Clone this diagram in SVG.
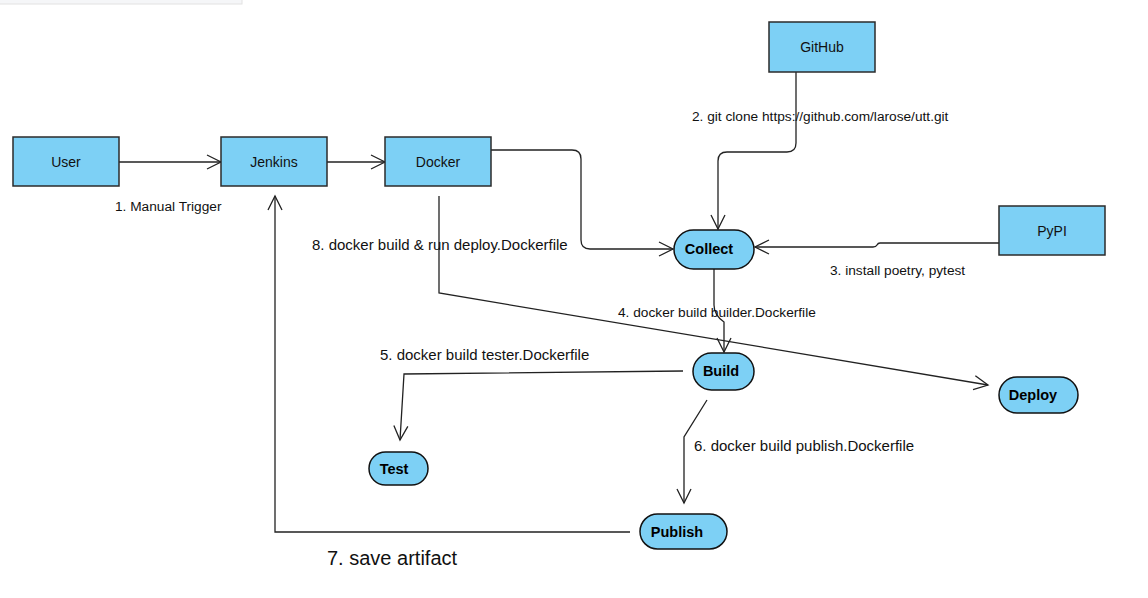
<svg xmlns="http://www.w3.org/2000/svg" width="1148" height="598" viewBox="0 0 1148 598">
<defs>
<style>
.box{fill:#7dd0f5;stroke:#2b2b2b;stroke-width:1.5}
.pill{fill:#7dd0f5;stroke:#111;stroke-width:1.5}
.lbl{font-family:"Liberation Sans",Arial,sans-serif;font-size:14px;fill:#111;text-anchor:middle}
.plbl{font-family:"Liberation Sans",Arial,sans-serif;font-size:14.5px;font-weight:bold;fill:#000;text-anchor:middle}
.elbl{font-family:"Liberation Sans",Arial,sans-serif;font-size:13.7px;fill:#111}
.big{font-size:15px}
.conn{fill:none;stroke:#222;stroke-width:1.3}
</style>
<marker id="arr" markerWidth="20" markerHeight="16" refX="15" refY="8" orient="auto" markerUnits="userSpaceOnUse">
<path d="M1,1 L15,8 L1,15" fill="none" stroke="#222" stroke-width="1.3"/>
</marker>
</defs>
<rect width="1148" height="598" fill="#fff"/>
<rect x="-1" y="-1" width="243" height="5" fill="#f5f6f8" stroke="#e2e2e2" stroke-width="1"/>

<g id="connectors">
<path class="conn" d="M119,162 H221" marker-end="url(#arr)"/>
<path class="conn" d="M327,162 H385" marker-end="url(#arr)"/>
<path class="conn" d="M491,150 H572 Q581,150 581,159 V240 Q581,249 590,249 H673" marker-end="url(#arr)"/>
<path class="conn" d="M796,72 V143 Q796,152 787,152 H727 Q718,152 718,161 V229" marker-end="url(#arr)"/>
<path class="conn" d="M999,243 H880 Q878,243 877,245 Q876,247 873,247 H755" marker-end="url(#arr)"/>
<path class="conn" d="M714,269 V305 Q714,315 724,322 V352" marker-end="url(#arr)"/>
<path class="conn" d="M683,371 L404,374 L400,440" marker-end="url(#arr)"/>
<path class="conn" d="M707,400 L684,437 V503" marker-end="url(#arr)"/>
<path class="conn" d="M439,196 V293 L988,385" marker-end="url(#arr)"/>
<path class="conn" d="M630,532 H275 V196" marker-end="url(#arr)"/>
</g>

<g id="labels">
<text class="elbl" x="115" y="211">1. Manual Trigger</text>
<text class="elbl" x="692" y="121">2. git clone https://github.com/larose/utt.git</text>
<text class="elbl" x="830" y="275">3. install poetry, pytest</text>
<text class="elbl" x="618" y="317">4. docker build builder.Dockerfile</text>
<text class="elbl big" x="380" y="360">5. docker build tester.Dockerfile</text>
<text class="elbl big" x="694" y="451">6. docker build publish.Dockerfile</text>
<text class="elbl" x="327" y="565" style="font-size:20px">7. save artifact</text>
<text class="elbl big" x="312" y="250">8. docker build &amp; run deploy.Dockerfile</text>
</g>

<g id="user"><rect class="box" x="13" y="137" width="106" height="49"/><text class="lbl" x="66" y="167">User</text></g>
<g id="jenkins"><rect class="box" x="221" y="137" width="106" height="49"/><text class="lbl" x="274" y="167">Jenkins</text></g>
<g id="docker"><rect class="box" x="385" y="137" width="106" height="49"/><text class="lbl" x="438" y="167">Docker</text></g>
<g id="github"><rect class="box" x="769" y="22" width="106" height="50"/><text class="lbl" x="822" y="52">GitHub</text></g>
<g id="pypi"><rect class="box" x="999" y="206" width="106" height="49"/><text class="lbl" x="1052" y="236">PyPI</text></g>
<g id="collect"><rect class="pill" x="674" y="230" width="80" height="39" rx="19.5"/><text class="plbl" x="709" y="254">Collect</text></g>
<g id="build"><rect class="pill" x="693" y="353" width="61" height="37" rx="18.5"/><text class="plbl" x="721" y="376">Build</text></g>
<g id="test"><rect class="pill" x="369" y="452" width="59" height="33" rx="16.5"/><text class="plbl" x="394" y="474">Test</text></g>
<g id="deploy"><rect class="pill" x="999" y="377" width="79" height="36" rx="18"/><text class="plbl" x="1033" y="400">Deploy</text></g>
<g id="publish"><rect class="pill" x="640" y="514" width="87" height="35" rx="17.5"/><text class="plbl" x="677" y="537">Publish</text></g>
</svg>
